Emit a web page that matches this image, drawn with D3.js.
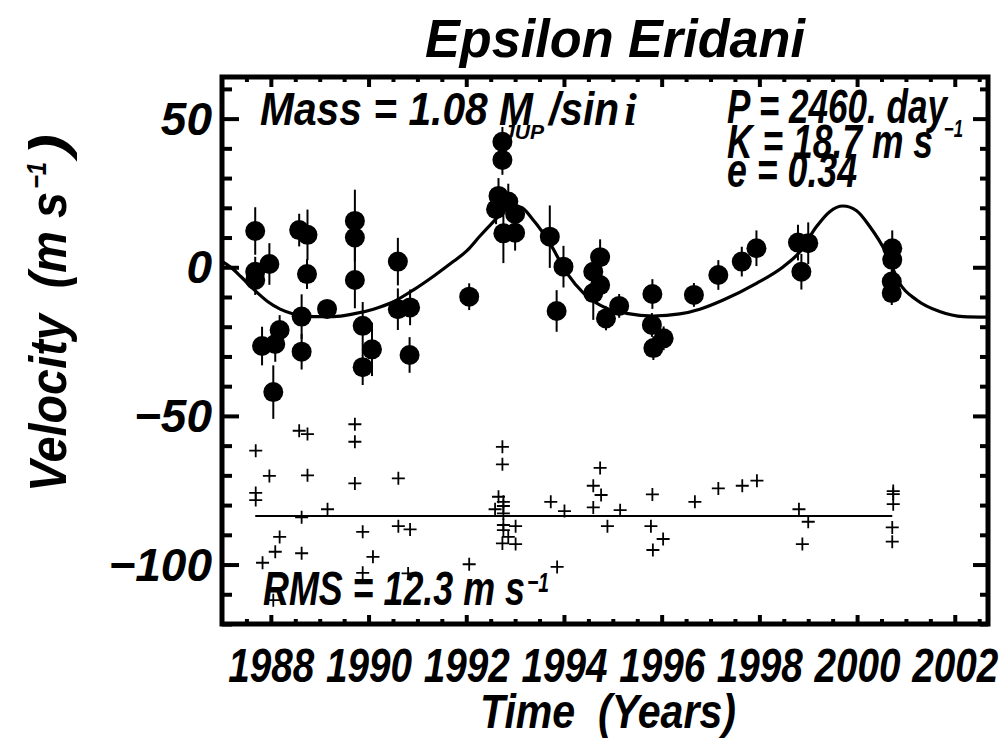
<!DOCTYPE html>
<html><head><meta charset="utf-8">
<script src="https://cdn.jsdelivr.net/npm/d3@7"></script>
<style>
html,body{margin:0;padding:0;background:#fff;}
text{font-family:"Liberation Sans",Arial,Helvetica,sans-serif;font-weight:bold;font-style:italic;fill:#000;white-space:pre;}
</style></head>
<body><div id="chart"></div>
<script>
// ---------------- data ----------------
const obsYear = [1987.68,1987.68,1987.68,1987.97,1987.82,1988.09,1988.18,1988.05,1988.58,1988.75,1988.74,1988.63,1988.63,1989.15,1989.72,1989.72,1989.72,1989.88,1990.07,1989.88,1990.60,1990.60,1990.85,1990.84,1992.06,
 1992.74,1992.74,1992.66,1992.61,1992.86,1993.00,1992.76,1993.00,
 1993.71,1993.99,1993.85,1994.74,1994.60,1994.74,1994.60,1995.13,1994.86,1995.81,1995.80,1996.04,1995.83,1996.66,1997.16,1997.64,1997.94,1998.79,1999.00,1998.86,2000.72,2000.72,2000.71,2000.71];
const obsVel  = [12.2,-1.5,-4.3,1.1,-26.5,-25.8,-21.1,-42.0,12.5,10.9,-2.3,-16.6,-28.4,-14.0,15.6,10.0,-4.3,-19.7,-27.6,-33.6,1.9,-14.1,-13.5,-29.5,-9.9,
 42.2,36.1,24.0,19.5,22.1,17.9,11.4,11.6,
 10.3,0.2,-14.7,3.4,-1.5,-6.0,-8.7,-13.0,-17.2,-9.0,-19.4,-23.9,-27.2,-9.3,-2.6,1.9,6.4,8.3,8.1,-1.5,6.4,2.5,-4.8,-8.7];
const obsErr  = [8,5,5,7,6.5,6,5,9,5.5,8.5,5,7.5,6,3,10.5,8,9.5,8,9,6,8,7,6,6,4.5,
 5,5,6,5,6,5,10,6,
 10.5,7,7,6,5,5,9,4,4,5,4,4,4,4,5,5,6,6,7,6,6,4,4,4];

const fitYear = [1987.00,1987.18,1987.39,1987.66,1987.94,1988.19,1988.46,1988.87,1989.28,1989.69,1990.10,1990.51,1990.92,1991.33,1991.74,1992.01,1992.28,1992.49,1992.83,1993.10,1993.37,1993.71,1994.06,1994.40,1994.87,1995.28,1995.83,1996.37,1996.78,1997.26,1997.94,1998.49,1998.83,1999.17,1999.44,1999.71,1999.99,2000.26,2000.60,2000.87,2001.22,2001.69,2002.17,2002.71];
const fitVel  = [2.0,0.0,-3.2,-7.6,-11.6,-14.1,-15.7,-16.6,-16.6,-15.7,-14.1,-11.6,-7.6,-3.0,2.0,5.5,10.5,14.2,19.3,20.2,15.9,8.1,-2.0,-8.7,-13.8,-15.5,-16.4,-15.7,-14.1,-11.0,-5.4,0.2,5.2,13.7,18.7,20.6,19.0,13.7,4.7,-5.4,-11.0,-14.9,-16.6,-16.8];

const resYear = [1987.69,1987.97,1987.69,1987.69,1988.58,1988.75,1988.75,1988.63,1989.16,1989.72,1989.72,1989.72,1989.88,1990.09,1989.88,1990.61,1990.61,1990.85,1988.18,1988.09,1987.83,1988.63,1988.05,1992.06,1990.81,
 1992.74,1992.74,1992.66,1992.76,1992.76,1992.59,1992.76,1992.76,1992.76,1992.86,1992.74,1993.01,1993.01,
 1993.73,1994.01,1994.74,1994.60,1994.76,1994.60,1995.15,1994.89,1995.81,1995.78,1996.03,1995.82,1996.68,1997.16,1993.86,
 1997.65,1997.95,1998.81,1999.00,1998.88,2000.74,2000.74,2000.74,2000.72,2000.72];
const resVal  = [22.0,13.5,7.8,5.4,28.7,27.6,13.7,-0.4,2.3,30.9,25.0,11.0,-5.3,-13.7,-19.1,12.7,-3.4,-4.5,-7.0,-12.0,-15.7,-12.5,-28.3,-16.2,-19.3,
 23.3,17.4,6.5,4.8,3.4,2.3,0.9,-3.0,-4.7,-7.0,-9.2,-3.4,-9.4,
 4.8,1.7,16.2,10.2,7.1,2.9,2.0,-3.4,7.3,-3.4,-7.7,-11.4,4.8,9.3,-17.1,
 10.2,11.9,2.3,-1.9,-9.4,8.4,7.4,4.0,-3.8,-8.6];
const resOffset = -83.7;

const yMajorTicks = [-100,-50,0,50];
const xMajorTicks = [1988,1990,1992,1994,1996,1998,2000,2002];

const titleText = "Epsilon Eridani";
const massText = "Mass = 1.08 M";
const pText = "P = 2460. day";
const kText = "K = 18.7 m s";
const eText = "e = 0.34";
const rmsText = "RMS = 12.3 m s";

// ---------------- layout ----------------
const W = 1003, H = 740;
const L = 222, R = 988, T = 77, B = 624;
const x = d3.scaleLinear().domain([1987.0, 2002.68]).range([L, R]);
const y = d3.scaleLinear().domain([-120, 64]).range([B, T]);

const svg = d3.select("#chart").append("svg").attr("width", W).attr("height", H);

svg.append("defs").append("clipPath").attr("id","clip")
  .append("rect").attr("x",L).attr("y",T).attr("width",R-L).attr("height",B-T);

const yMinor = d3.range(-120, 61, 10).filter(v => v % 50 !== 0);
const xMinor = d3.range(1987.5, 2002.6, 0.5).filter(v => v % 2 !== 0);

function styleAxis(g, w){
  g.select(".domain").remove();
  g.selectAll(".tick line").attr("stroke","#000").attr("stroke-width",w);
}
// left
svg.append("g").attr("transform",`translate(${L},0)`)
  .call(d3.axisLeft(y).tickValues(yMinor).tickSize(-10).tickFormat(""))
  .call(g=>styleAxis(g,4));
const yl = svg.append("g").attr("transform",`translate(${L},0)`)
  .call(d3.axisLeft(y).tickValues(yMajorTicks).tickSize(-17).tickPadding(10)
    .tickFormat(d => d < 0 ? "\u2212" + Math.abs(d) : String(d)))
  .call(g=>styleAxis(g,4));
yl.selectAll(".tick text").attr("font-size",46).attr("font-family",null).attr("dy","0.34em");
// right
svg.append("g").attr("transform",`translate(${R},0)`)
  .call(d3.axisRight(y).tickValues(yMinor).tickSize(-8).tickFormat(""))
  .call(g=>styleAxis(g,4));
svg.append("g").attr("transform",`translate(${R},0)`)
  .call(d3.axisRight(y).tickValues(yMajorTicks).tickSize(-15).tickFormat(""))
  .call(g=>styleAxis(g,4));
// bottom
svg.append("g").attr("transform",`translate(0,${B})`)
  .call(d3.axisBottom(x).tickValues(xMinor).tickSize(-5).tickFormat(""))
  .call(g=>styleAxis(g,4));
const xb = svg.append("g").attr("transform",`translate(0,${B})`)
  .call(d3.axisBottom(x).tickValues(xMajorTicks).tickSize(-9).tickPadding(24).tickFormat(d3.format("d")))
  .call(g=>styleAxis(g,4));
xb.selectAll(".tick text").attr("font-size",48).attr("font-family",null).attr("dy","0.71em")
  .attr("textLength",86).attr("lengthAdjust","spacingAndGlyphs");
// top
svg.append("g").attr("transform",`translate(0,${T})`)
  .call(d3.axisTop(x).tickValues(xMinor).tickSize(-5).tickFormat(""))
  .call(g=>styleAxis(g,4));
svg.append("g").attr("transform",`translate(0,${T})`)
  .call(d3.axisTop(x).tickValues(xMajorTicks).tickSize(-10).tickFormat(""))
  .call(g=>styleAxis(g,4));

// frame
svg.append("rect").attr("x",L).attr("y",T).attr("width",R-L).attr("height",B-T)
  .attr("fill","none").attr("stroke","#000").attr("stroke-width",5);

const plot = svg.append("g").attr("clip-path","url(#clip)");

// fitted orbit
const fit = fitYear.map((t,i)=>[t, fitVel[i]]);
plot.append("path").datum(fit)
  .attr("d", d3.line().x(d=>x(d[0])).y(d=>y(d[1])).curve(d3.curveMonotoneX))
  .attr("fill","none").attr("stroke","#000").attr("stroke-width",3.2);

// error bars + points
const obs = obsYear.map((t,i)=>({t, v:obsVel[i], e:obsErr[i]}));
plot.selectAll("line.err").data(obs).join("line").attr("class","err")
  .attr("x1",d=>x(d.t)).attr("x2",d=>x(d.t))
  .attr("y1",d=>y(d.v+d.e)).attr("y2",d=>y(d.v-d.e))
  .attr("stroke","#000").attr("stroke-width",2);
plot.selectAll("circle.pt").data(obs).join("circle").attr("class","pt")
  .attr("cx",d=>x(d.t)).attr("cy",d=>y(d.v)).attr("r",10).attr("fill","#000");

// residuals
const ext = d3.extent(obsYear);
plot.append("line").attr("x1",x(ext[0])).attr("x2",x(ext[1]))
  .attr("y1",y(resOffset)).attr("y2",y(resOffset))
  .attr("stroke","#000").attr("stroke-width",2);
const res = resYear.map((t,i)=>({t, r:resVal[i]}));
plot.selectAll("path.res").data(res).join("path").attr("class","res")
  .attr("transform",d=>`translate(${x(d.t)},${y(d.r+resOffset)})`)
  .attr("d","M-6.5,0H6.5M0,-6.5V6.5")
  .attr("stroke","#000").attr("stroke-width",1.8).attr("fill","none");

// ---------------- text ----------------
function txt(s, xx, yy, size, len, extra){
  const t = svg.append("text").attr("x",xx).attr("y",yy).attr("font-size",size).text(s);
  if(len){ t.attr("textLength",len).attr("lengthAdjust","spacingAndGlyphs"); }
  if(extra) extra(t);
  return t;
}
txt(titleText, 425, 57, 54, 380);
txt(massText, 260, 125, 46, 273);
txt("JUP", 503, 139, 21, 41);
txt("/sin", 549, 125, 46, 70);
txt("i", 624, 125, 46, null, t=>t.style("font-family","'Liberation Serif',serif"));
txt(pText, 727, 123, 48, 220);
txt(kText, 727, 158, 48, 206);
txt("\u22121", 944, 137, 24, 19);
txt(eText, 727, 187, 48, 130);
txt(rmsText, 263, 605, 48, 262);
txt("\u22121", 527, 592, 28, 22);
txt("Time  (Years)", 480, 728, 48, 256);

// y-axis title (rotated)
const yt = svg.append("g").attr("transform","translate(66,492) rotate(-90)");
yt.append("text").attr("x",0).attr("y",0).attr("font-size",52).attr("textLength",300).attr("lengthAdjust","spacingAndGlyphs").text("Velocity  (m s");
yt.append("text").attr("x",303).attr("y",-20).attr("font-size",28).attr("textLength",27).attr("lengthAdjust","spacingAndGlyphs").text("\u22121");
yt.append("text").attr("x",336).attr("y",0).attr("font-size",52).attr("textLength",22).attr("lengthAdjust","spacingAndGlyphs").text(")");
</script></body></html>
